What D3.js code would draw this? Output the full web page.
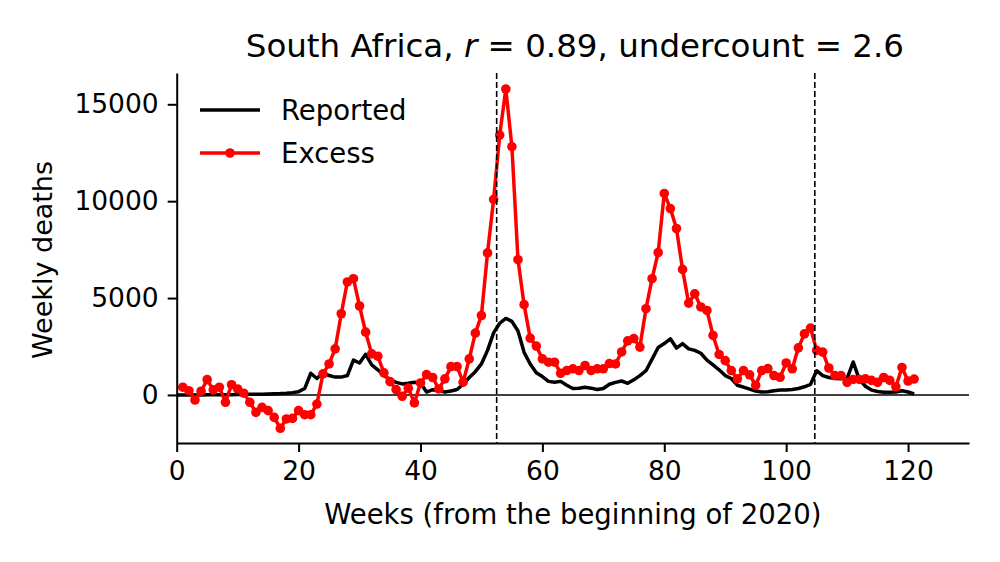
<!DOCTYPE html>
<html>
<head>
<meta charset="utf-8">
<script src="https://cdn.jsdelivr.net/npm/d3@7"></script>
<style>
  body { margin: 0; background: #fff; }
  svg { display: block; font-family: "DejaVu Sans", sans-serif; }
</style>
</head>
<body>
<svg id="chart" width="1000" height="562"></svg>
<script>
// Weekly deaths, South Africa (weeks from the beginning of 2020)
const reportedWeeks = d3.range(0, 122);
const reported = [
  0, 0, 0, 0, 0, 5, 5, 10, 10, 15,
  20, 25, 30, 35, 40, 50, 60, 70, 90, 120,
  170, 330, 1120, 850, 1150, 1000, 920, 920, 1000, 1800,
  1650, 2100, 1550, 1300, 1000, 800, 650, 570, 600, 650,
  620, 150, 270, 220, 150, 200, 280, 550, 900, 1200,
  1600, 2300, 3200, 3700, 3950, 3800, 3300, 2200, 1600, 1150,
  950, 700, 660, 700, 500, 330, 350, 400, 350, 280,
  330, 550, 650, 720, 600, 780, 1000, 1250, 1850, 2450,
  2650, 2900, 2420, 2650, 2380, 2300, 2150, 1800, 1550, 1300,
  1000, 850, 500, 400, 300, 200, 150, 170, 220, 250,
  250, 280, 330, 420, 550, 1250, 1000, 900, 850, 830,
  850, 1700, 800, 450, 250, 180, 140, 140, 150, 220,
  150, 50
];

const excessWeeks = d3.range(1, 122);
const excess = [
  400, 220, -260, 190, 790, 260, 400, -380, 530, 310,
  90, -380, -900, -640, -810, -1160, -1720, -1240, -1210, -810,
  -1020, -1020, -470, 1090, 1600, 2380, 4190, 5830, 6000, 4590,
  3240, 2120, 2000, 1140, 690, 280, -70, 350, -410, 620,
  1050, 900, 310, 830, 1460, 1460, 660, 1860, 3190, 4100,
  7330, 10090, 13410, 15790, 12810, 6980, 4660, 2930, 2520, 1860,
  1690, 1690, 1120, 1260, 1350, 1260, 1520, 1260, 1350, 1350,
  1620, 1600, 2220, 2790, 2910, 2470, 4450, 6000, 7350, 10400,
  9620, 8590, 6480, 4740, 5220, 4540, 4360, 3070, 2090, 1770,
  1260, 830, 1260, 1040, 500, 1260, 1360, 1000, 910, 1650,
  1350, 2430, 3150, 3450, 2300, 2210, 1390, 1000, 1000, 650,
  800, 800, 830, 750, 650, 900, 750, 420, 1420, 720,
  820
];

// Year boundaries (end of 2020, end of 2021)
const yearMarks = [52.5, 104.7];

const xTicks = [0, 20, 40, 60, 80, 100, 120];
const yTicks = [0, 5000, 10000, 15000];

const svg = d3.select('#chart');

// Plot area in page pixels
const plot = { left: 176.7, right: 969, top: 73, bottom: 443 };

const x = d3.scaleLinear().domain([0, 130]).range([plot.left, plot.right]);
const y = d3.scaleLinear().domain([-2480, 16615]).range([plot.bottom, plot.top]);

const lineWidth = 3.5;
const markerRadius = 4.8;

// Zero line
svg.append('line')
  .attr('x1', plot.left).attr('x2', plot.right)
  .attr('y1', y(0)).attr('y2', y(0))
  .attr('stroke', '#000')
  .attr('stroke-width', 1.6);

// Reported line
const line = d3.line()
  .x(d => x(d[0]))
  .y(d => y(d[1]));

svg.append('path')
  .datum(reportedWeeks.map((w, i) => [w, reported[i]]))
  .attr('fill', 'none')
  .attr('stroke', '#000')
  .attr('stroke-width', lineWidth)
  .attr('stroke-linejoin', 'round')
  .attr('d', line);

// Excess line with markers
const excessData = excessWeeks.map((w, i) => [w, excess[i]]);

svg.append('path')
  .datum(excessData)
  .attr('fill', 'none')
  .attr('stroke', '#ff0000')
  .attr('stroke-width', lineWidth)
  .attr('stroke-linejoin', 'round')
  .attr('d', line);

svg.append('g')
  .selectAll('circle')
  .data(excessData)
  .enter()
  .append('circle')
  .attr('cx', d => x(d[0]))
  .attr('cy', d => y(d[1]))
  .attr('r', markerRadius)
  .attr('fill', '#ff0000');

// Dashed year boundaries
svg.append('g')
  .selectAll('line')
  .data(yearMarks)
  .enter()
  .append('line')
  .attr('x1', d => x(d)).attr('x2', d => x(d))
  .attr('y1', plot.top).attr('y2', plot.bottom)
  .attr('stroke', '#000')
  .attr('stroke-width', 1.6)
  .attr('stroke-dasharray', '6,3');

// Axes
const xAxis = svg.append('g')
  .attr('transform', `translate(0,${plot.bottom})`)
  .call(d3.axisBottom(x).tickValues(xTicks).tickFormat(d3.format('d'))
    .tickSize(9).tickPadding(9).tickSizeOuter(0));

const yAxis = svg.append('g')
  .attr('transform', `translate(${plot.left},0)`)
  .call(d3.axisLeft(y).tickValues(yTicks).tickFormat(d3.format('d'))
    .tickSize(9).tickPadding(9).tickSizeOuter(0));

[xAxis, yAxis].forEach(g => {
  g.select('.domain').attr('stroke-width', 2);
  g.selectAll('.tick line').attr('stroke-width', 2);
  g.selectAll('.tick text')
    .attr('font-family', '"DejaVu Sans", sans-serif')
    .attr('font-size', 26.5)
    .attr('fill', '#000');
});

// Axis titles
svg.append('text')
  .attr('x', (plot.left + plot.right) / 2)
  .attr('y', 524)
  .attr('text-anchor', 'middle')
  .attr('font-size', 27.5)
  .text('Weeks (from the beginning of 2020)');

svg.append('text')
  .attr('transform', 'translate(52,260) rotate(-90)')
  .attr('text-anchor', 'middle')
  .attr('font-size', 27)
  .text('Weekly deaths');

// Title
const title = svg.append('text')
  .attr('x', (plot.left + plot.right) / 2 + 2)
  .attr('y', 57)
  .attr('text-anchor', 'middle')
  .attr('font-size', 32.5);
title.append('tspan').text('South Africa, ');
title.append('tspan').attr('font-style', 'italic').text('r');
title.append('tspan').text(' = 0.89, undercount = 2.6');

// Legend
const legend = svg.append('g');
legend.append('line')
  .attr('x1', 200).attr('x2', 260)
  .attr('y1', 110).attr('y2', 110)
  .attr('stroke', '#000').attr('stroke-width', lineWidth);
legend.append('text')
  .attr('x', 281).attr('y', 120)
  .attr('font-size', 27.5)
  .text('Reported');
legend.append('line')
  .attr('x1', 200).attr('x2', 260)
  .attr('y1', 153).attr('y2', 153)
  .attr('stroke', '#ff0000').attr('stroke-width', lineWidth);
legend.append('circle')
  .attr('cx', 230).attr('cy', 153).attr('r', markerRadius)
  .attr('fill', '#ff0000');
legend.append('text')
  .attr('x', 281).attr('y', 163)
  .attr('font-size', 27.5)
  .text('Excess');
</script>
</body>
</html>
